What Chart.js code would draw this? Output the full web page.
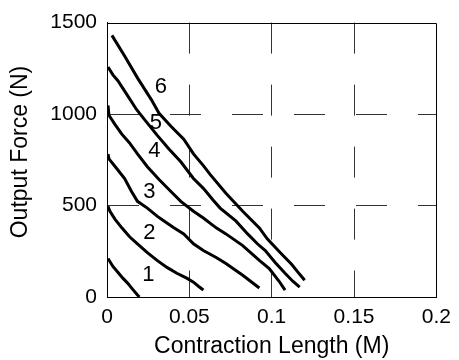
<!DOCTYPE html>
<html>
<head>
<meta charset="utf-8">
<script src="https://cdn.jsdelivr.net/npm/chart.js@4/dist/chart.umd.min.js"></script>
<style>
  html, body { margin: 0; padding: 0; background: #fff; }
  #wrap { width: 459px; height: 360px; }
</style>
</head>
<body>
<div id="wrap"><canvas id="myChart" width="459" height="360"></canvas></div>
<script>
// contraction length (M) and output force (N) for each curve
const c1Len = [0.0006, 0.0036, 0.0066, 0.0096, 0.0125, 0.0155, 0.0185, 0.0197]
const c1Force = [210, 167, 135, 103, 76, 43, 11, 0]

const c2Len = [0.0006, 0.0018, 0.0048, 0.0090, 0.0137, 0.0185, 0.0245, 0.0304, 0.0364, 0.0424, 0.0484, 0.0525, 0.0555, 0.0585]
const c2Force = [496, 469, 426, 378, 329, 291, 243, 200, 162, 130, 103, 81, 59, 38]

const c3Len = [0.0006, 0.0012, 0.0060, 0.0107, 0.0149, 0.0185, 0.0245, 0.0304, 0.0346, 0.0406, 0.0466, 0.0525, 0.0585, 0.0663, 0.0722, 0.0824, 0.0925]
const c3Force = [782, 755, 701, 647, 577, 523, 486, 442, 416, 378, 345, 291, 254, 216, 183, 119, 49]

const c4Len = [0.0006, 0.0012, 0.0048, 0.0090, 0.0137, 0.0185, 0.0245, 0.0316, 0.0388, 0.0448, 0.0525, 0.0585, 0.0663, 0.0722, 0.0824, 0.0925, 0.0985, 0.1045, 0.1081]
const c4Force = [1047, 993, 944, 890, 842, 782, 712, 642, 577, 523, 469, 432, 378, 345, 281, 200, 156, 86, 38]

const c5Len = [0.0006, 0.0036, 0.0066, 0.0125, 0.0179, 0.0227, 0.0304, 0.0376, 0.0448, 0.0525, 0.0585, 0.0645, 0.0687, 0.0782, 0.0854, 0.0913, 0.0961, 0.1021, 0.1081, 0.1128, 0.1170]
const c5Force = [1257, 1214, 1182, 1101, 1025, 971, 885, 809, 739, 648, 594, 529, 486, 416, 345, 291, 254, 189, 130, 86, 54]

const c6Len = [0.0030, 0.0107, 0.0185, 0.0269, 0.0316, 0.0388, 0.0466, 0.0525, 0.0585, 0.0627, 0.0722, 0.0824, 0.0925, 0.0973, 0.1051, 0.1122, 0.1170, 0.1200]
const c6Force = [1430, 1317, 1198, 1079, 1004, 933, 863, 782, 718, 669, 567, 469, 378, 318, 243, 178, 124, 92]

// curve numbers and where they sit
const curveNames = ['1', '2', '3', '4', '5', '6']
const nameLen = [0.0251, 0.0257, 0.0257, 0.0287, 0.0297, 0.0327]
const nameForce = [119, 349, 577, 797, 951, 1148]

const xTicks = [0, 0.05, 0.1, 0.15, 0.2]
const xTickLabels = ['0', '0.05', '0.1', '0.15', '0.2']
const yTicks = [0, 500, 1000, 1500]
const yTickLabels = ['0', '500', '1000', '1500']
const yTitle = 'Output Force (N)'

const fontFam = '"Liberation Sans", Arial, sans-serif'

function pts(lens, forces) {
    let out = []
    for (let i = 0; i < lens.length; i++) {
        out.push({x: lens[i], y: forces[i]})
    }
    return out
}

const allLen = [c1Len, c2Len, c3Len, c4Len, c5Len, c6Len]
const allForce = [c1Force, c2Force, c3Force, c4Force, c5Force, c6Force]
const datasets = []
for (let i = 0; i < allLen.length; i++) {
    datasets.push({
        label: curveNames[i],
        data: pts(allLen[i], allForce[i]),
        borderColor: '#000',
        borderWidth: 3,
        pointRadius: 0,
        tension: 0,
        fill: false
    })
}

// box around the plot, curve numbers, y title
const extras = {
    id: 'extras',
    afterDatasetsDraw(chart) {
        const c = chart.ctx
        const a = chart.chartArea
        const xs = chart.scales.x
        const ys = chart.scales.y
        c.save()
        c.strokeStyle = '#000'
        c.lineWidth = 1
        c.beginPath()
        c.moveTo(Math.round(a.left) + 0.5, Math.round(a.top) + 0.5)
        c.lineTo(Math.round(a.right) + 0.5, Math.round(a.top) + 0.5)
        c.lineTo(Math.round(a.right) + 0.5, Math.round(a.bottom) + 0.5)
        c.stroke()
        c.fillStyle = '#000'
        c.font = '22px ' + fontFam
        c.textAlign = 'center'
        c.textBaseline = 'middle'
        for (let i = 0; i < curveNames.length; i++) {
            c.fillText(curveNames[i], xs.getPixelForValue(nameLen[i]), ys.getPixelForValue(nameForce[i]))
        }
        // y axis title, a bit above the plot centre like the original
        c.font = '23px ' + fontFam
        c.translate(21, 152)
        c.rotate(-Math.PI / 2)
        c.fillText(yTitle, 0, 0)
        c.restore()
    }
}

const ctx = document.getElementById('myChart')

new Chart(ctx, {
    type: 'line',
    data: { datasets: datasets },
    plugins: [extras],
    options: {
        responsive: false,
        animation: false,
        events: [],
        layout: { padding: { top: 19, right: 17, left: 0, bottom: 0 } },
        plugins: {
            legend: { display: false },
            tooltip: { enabled: false }
        },
        scales: {
            x: {
                type: 'linear',
                min: 0,
                max: 0.2,
                afterFit: (s) => { s.height = 63 },
                afterBuildTicks: (s) => { s.ticks = xTicks.map(v => ({value: v})) },
                ticks: {
                    padding: 8,
                    maxRotation: 0,
                    color: '#000',
                    font: { family: fontFam, size: 21 },
                    callback: (v, i) => xTickLabels[i]
                },
                grid: {
                    drawTicks: false,
                    lineWidth: 1,
                    color: (c) => (c.index === 0 || c.index === xTicks.length - 1) ? 'rgba(0,0,0,0)' : '#333'
                },
                border: { display: true, color: '#000', width: 1, dash: [31, 31] },
                title: {
                    display: true,
                    text: 'Contraction Length (M)',
                    color: '#000',
                    font: { family: fontFam, size: 23 },
                    padding: { top: 0, bottom: 0 }
                }
            },
            y: {
                type: 'linear',
                min: 0,
                max: 1500,
                afterFit: (s) => { s.width = 107 },
                afterBuildTicks: (s) => { s.ticks = yTicks.map(v => ({value: v})) },
                ticks: {
                    padding: 10,
                    color: '#000',
                    font: { family: fontFam, size: 21 },
                    callback: (v, i) => yTickLabels[i]
                },
                grid: {
                    drawTicks: false,
                    lineWidth: 1,
                    color: (c) => (c.index === 0 || c.index === yTicks.length - 1) ? 'rgba(0,0,0,0)' : '#333'
                },
                border: { display: true, color: '#000', width: 1, dash: [31, 31] }
            }
        }
    }
})
</script>
</body>
</html>
